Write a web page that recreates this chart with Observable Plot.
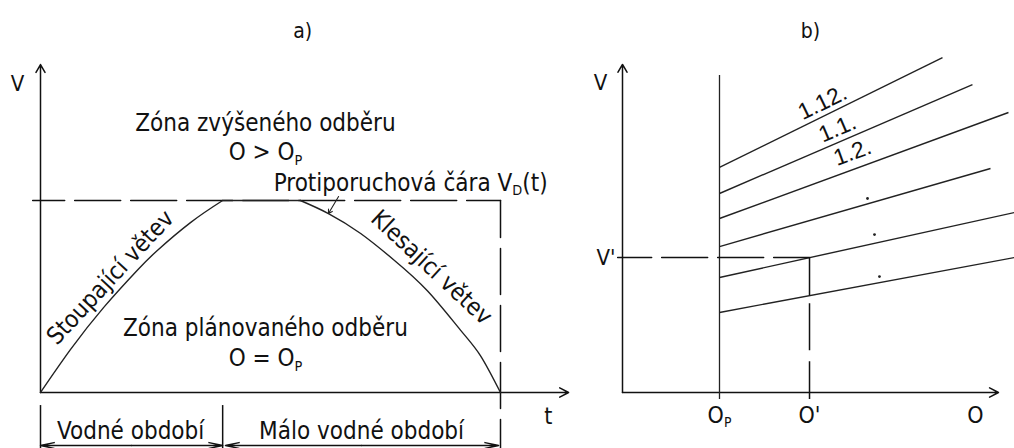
<!DOCTYPE html>
<html><head><meta charset="utf-8">
<script src="https://cdn.jsdelivr.net/npm/d3@7"></script>
<script src="https://cdn.jsdelivr.net/npm/@observablehq/plot@0.6"></script>
<style>
body{margin:0;background:#fff;}
#row{display:flex;width:1014px;height:448px;overflow:hidden;background:#fff;}
#row svg{flex:none;display:block;}
</style></head><body><div id="row"></div>
<script>
// ---------- Panel a) : rule curve V_D(t) ----------
// t : fraction of the year (0..1), V : relative storage (V_D plateau = 1)
const riseT = [0, 0.065, 0.137, 0.211, 0.254, 0.326, 0.396];
const riseV = [0, 0.223, 0.442, 0.638, 0.740, 0.885, 1];
const plateauT = [0.396, 0.565];
const fallT = [0.565, 0.626, 0.696, 0.767, 0.841, 0.913, 0.957, 1];
const fallV = [1, 0.932, 0.828, 0.693, 0.530, 0.325, 0.190, 0];
const wetEndT = 0.396;           // end of the wet period
const planeV = 1;                // level of the dashed V_D line
const periodNames = ["Vodné období", "Málo vodné období"];
const zoneTexts = ["Zóna zvýšeného odběru", "O > O_P", "Zóna plánovaného odběru", "O = O_P"];
const zoneT = [0.489, 0.489, 0.489, 0.489];
const zoneV = [1.404, 1.252, 0.333, 0.177];
const branchTexts = ["Stoupající větev", "Klesající větev"];
const branchT = [0.152, 0.850];
const branchV = [0.599, 0.651];
const ruleText = "Protiporuchová čára V_D(t)";

// ---------- Panel b) : V as function of O for single dates ----------
const monthLabels = ["1.12.", "1.1.", "1.2."];
const lineV0 = [1.667, 1.474, 1.289, 1.081, 0.852, 0.593];   // V at O = O_P
const lineO1 = [3.299, 3.608, 3.979, 3.794, 4.041, 4.041];   // O at line end
const lineV1 = [2.481, 2.281, 2.074, 1.659, 1.333, 1.000];   // V at line end
const monthLabelO = [2.062, 2.216, 2.371];
const monthLabelV = [2.148, 1.956, 1.778];
const moreO = [2.526, 2.598, 2.649];
const moreV = [1.437, 1.170, 0.859];
const oP = 1, oPrime = 1.928, vPrime = 1;

// ---------- helpers ----------
const FONT = "'DejaVu Sans Condensed', 'DejaVu Sans', sans-serif";
const INK = "#111";
const rise = riseT.map((t, i) => ({t, v: riseV[i]}));
const plateau = plateauT.map(t => ({t, v: planeV}));
const fall = fallT.map((t, i) => ({t, v: fallV[i]}));

function subscripts(svg) {
  const ns = "http://www.w3.org/2000/svg";
  svg.querySelectorAll("text").forEach(el => {
    const s = el.textContent;
    if (!s.includes("_")) return;
    const holder = el.closest("[font-size]");
    const fs = holder ? parseFloat(holder.getAttribute("font-size")) : 20;
    const shift = fs * 0.2;
    const parts = s.split(/_(\w)/);
    while (el.firstChild) el.removeChild(el.firstChild);
    let down = false;
    parts.forEach((p, i) => {
      const ts = document.createElementNS(ns, "tspan");
      ts.textContent = p;
      if (i % 2 === 1) { ts.setAttribute("font-size", fs * 0.6); ts.setAttribute("dy", shift); down = true; }
      else if (down) { ts.setAttribute("dy", -shift); down = false; }
      if (p.length || i % 2 === 0) el.appendChild(ts);
    });
  });
  return svg;
}

// ---------- plot a) ----------
const plotA = Plot.plot({
  width: 590, height: 448, margin: 0,
  x: {domain: [0, 1], range: [40, 500], axis: null},
  y: {domain: [0, 1], range: [392, 200], axis: null},
  style: {background: "white", overflow: "visible", fontFamily: FONT},
  marks: [
    // axes
    Plot.arrow([{a: 0, b: 0, c: 0, d: 1.708}], {x1: "a", y1: "b", x2: "c", y2: "d", stroke: INK, strokeWidth: 1.5, headLength: 9, headAngle: 60}),
    Plot.arrow([{a: 0, b: 0, c: 1.148, d: 0}], {x1: "a", y1: "b", x2: "c", y2: "d", stroke: INK, strokeWidth: 1.5, headLength: 10, headAngle: 55}),
    // dashed V_D level and end of year
    Plot.line([{t: -0.017, v: planeV}, {t: 1, v: planeV}], {x: "t", y: "v", stroke: INK, strokeWidth: 1.5, strokeDasharray: "46,10", strokeDashoffset: 14}),
    Plot.line([{t: 1, v: planeV}, {t: 1, v: -0.30}], {x: "t", y: "v", stroke: INK, strokeWidth: 1.5, strokeDasharray: "46,11", strokeDashoffset: 9}),
    // rule curve: rising branch, plateau, falling branch
    Plot.line(rise, {x: "t", y: "v", curve: "natural", stroke: "#222", strokeWidth: 1.4}),
    Plot.line(plateau, {x: "t", y: "v", stroke: "#222", strokeWidth: 1.5}),
    Plot.line(fall, {x: "t", y: "v", curve: "natural", stroke: "#222", strokeWidth: 1.4}),
    // pointer from the label to the curve
    Plot.arrow([{a: 0.648, b: 1.021, c: 0.626, d: 0.932}], {x1: "a", y1: "b", x2: "c", y2: "d", stroke: "#222", strokeWidth: 1.1, headLength: 6, headAngle: 60}),
    // period bracket
    Plot.ruleX([0, wetEndT], {y1: -0.068, y2: -0.30, stroke: INK, strokeWidth: 1.5}),
    Plot.arrow([
      {a: wetEndT / 2, c: 0}, {a: wetEndT / 2, c: wetEndT},
      {a: (wetEndT + 1) / 2, c: wetEndT + 0.006}, {a: (wetEndT + 1) / 2, c: 0.996}
    ], {x1: "a", x2: "c", y1: () => -0.276, y2: () => -0.276, stroke: INK, strokeWidth: 1.4, headLength: 15, headAngle: 24}),
    // texts
    Plot.text(["a)"], {x: () => 0.57, y: () => 1.88, fontSize: 21, fill: INK}),
    Plot.text(["V"], {x: () => -0.05, y: () => 1.609, fontSize: 22, fill: INK}),
    Plot.text(["t"], {x: () => 1.104, y: () => -0.125, fontSize: 23, fill: INK}),
    Plot.text(zoneTexts, {x: (d, i) => zoneT[i], y: (d, i) => zoneV[i], text: d => d, fontSize: 24, fill: INK}),
    Plot.text([ruleText], {x: () => 0.507, y: () => 1.092, textAnchor: "start", fontSize: 24, fill: INK}),
    Plot.text(branchTexts, {x: (d, i) => branchT[i], y: (d, i) => branchV[i], text: d => d, rotate: (d, i) => [-47, 43][i], fontSize: 24, fill: INK}),
    Plot.text(periodNames, {x: (d, i) => [wetEndT / 2 - 0.002, (wetEndT + 1) / 2][i], y: () => -0.203, text: d => d, fontSize: 24, fill: INK})
  ]
});

// ---------- plot b) ----------
const lineIdx = d3.range(lineV0.length);
const v6AtOPrime = lineV0[5] + (oPrime - oP) * (lineV1[5] - lineV0[5]) / (lineO1[5] - oP);
const plotB = Plot.plot({
  width: 424, height: 448, margin: 0,
  x: {domain: [0, 1], range: [32, 129], axis: null},
  y: {domain: [0, 1], range: [392, 257], axis: null},
  style: {background: "white", overflow: "visible", fontFamily: FONT},
  marks: [
    Plot.arrow([{a: 0, b: 0, c: 0, d: 2.43}], {x1: "a", y1: "b", x2: "c", y2: "d", stroke: INK, strokeWidth: 1.5, headLength: 9, headAngle: 60}),
    Plot.arrow([{a: 0, b: 0, c: 3.876, d: 0}], {x1: "a", y1: "b", x2: "c", y2: "d", stroke: INK, strokeWidth: 1.5, headLength: 10, headAngle: 55}),
    Plot.ruleX([oP], {y1: -0.052, y2: 2.348, stroke: "#222", strokeWidth: 1.3}),
    Plot.link(lineIdx, {x1: () => oP, y1: i => lineV0[i], x2: i => lineO1[i], y2: i => lineV1[i], stroke: "#222", strokeWidth: 1.4}),
    // V' / O' construction
    Plot.line([{o: -0.05, v: vPrime}, {o: oPrime, v: vPrime}], {x: "o", y: "v", stroke: INK, strokeWidth: 1.5, strokeDasharray: "46,10", strokeDashoffset: 12}),
    Plot.ruleX([oPrime], {y1: vPrime, y2: v6AtOPrime, stroke: INK, strokeWidth: 1.5}),
    Plot.ruleX([oPrime], {y1: v6AtOPrime, y2: -0.052, stroke: INK, strokeWidth: 1.5, strokeDasharray: "47,11", strokeDashoffset: 50}),
    // labels
    Plot.text(monthLabels, {x: (d, i) => monthLabelO[i], y: (d, i) => monthLabelV[i], text: d => d, rotate: (d, i) => [-26, -23, -20][i], fontSize: 23, fontFamily: "'Liberation Sans', Arial, sans-serif", fill: INK}),
    Plot.dot(moreO, {x: d => d, y: (d, i) => moreV[i], r: 1.4, fill: "#222", stroke: null}),
    Plot.text(["b)"], {x: () => 1.938, y: () => 2.674, fontSize: 21, fill: INK}),
    Plot.text(["V"], {x: () => -0.227, y: () => 2.296, fontSize: 22, fill: INK}),
    Plot.text(["V'"], {x: () => -0.072, y: () => vPrime, textAnchor: "end", fontSize: 22, fill: INK}),
    Plot.text(["O_P", "O'", "O"], {x: (d, i) => [oP, oPrime, 3.639][i], y: () => -0.17, text: d => d, fontSize: 23, fill: INK})
  ]
});

const row = document.getElementById("row");
row.appendChild(subscripts(plotA));
row.appendChild(subscripts(plotB));
</script>
</body></html>
